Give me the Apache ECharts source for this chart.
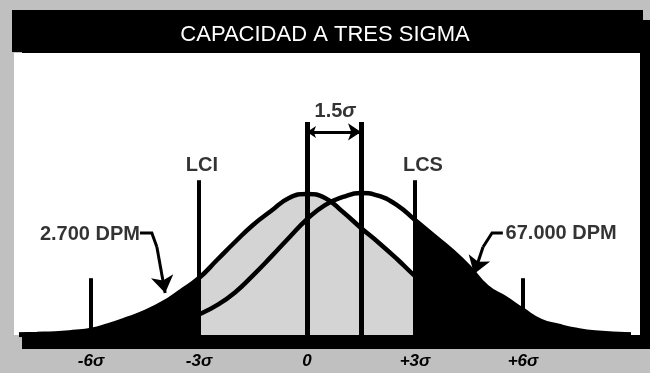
<!DOCTYPE html>
<html>
<head>
<meta charset="utf-8">
<script src="https://cdn.jsdelivr.net/npm/echarts@6/dist/echarts.min.js"></script>
<style>html,body{margin:0;padding:0;background:#c0c0c0}#c{width:650px;height:373px}</style>
</head>
<body>
<div id="c"></div>
<script>
// x positions in sigma units
const sigmaX = [-8,-7.5,-7,-6.5,-6,-5.5,-5,-4.5,-4,-3.5,-3,-2.5,-2,-1.5,-1,-0.5,0,0.5,1,1.5,2,2.5,3,3.5,4,4.5,5,5.5,6,6.5,7,7.5,8,9];
// relative height of the centred process (peak ~100)
const centeredProcess = [0.4,0.7,1.1,2.1,3.5,7.0,11.3,16.2,22.5,31.0,40.1,52.8,65.5,77.5,87.3,96.5,99.3,96.5,86.6,75.4,64.8,53.5,41.5,31.0,21.8,16.2,11.3,7.0,3.5,2.1,1.1,0.7,0.4,0];
// relative height of the process shifted by 1.5 sigma
const shiftedProcess = [0,0.1,0.2,0.4,0.7,1.4,2.1,3.5,5.6,9.0,14.5,21.0,30.0,42.0,55.0,68.5,81.5,91.5,97.2,100,97.9,91.5,81.0,70.4,59.9,47.9,33.8,26.1,17.6,9.9,6.3,3.5,1.8,0.4];

const tickValues = [-6,-3,0,3,6];
const tickLabels = ['-6σ','-3σ','0','+3σ','+6σ'];

const specLimits = [-3, 3];      // LCI, LCS
const specLimitTop = 109;
const processMeans = [0, 1.5];
const meanLineTop = 150;
const farTicks = [-6, 6];
const farTickTop = 40;
const shiftArrowY = 143;

const annotationTexts = ['LCI','LCS','1.5{i|σ}','2.700 DPM','67.000 DPM'];
const annotationX = [-2.92, 3.22, 0.78, -6.03, 7.06];
const annotationY = [119.7, 119.7, 157.7, 71.1, 71.8];

const leaderLeft = [[-4.64,71.8],[-4.31,71.8],[-4.17,62.0],[-3.94,29.6]];
const leaderRight = [[5.44,71.8],[5.14,71.8],[4.89,62.0],[4.64,43.0]];

const pairs = (ys) => sigmaX.map((x,i)=>[x, ys[i]]);
const centered = pairs(centeredProcess);
const shifted = pairs(shiftedProcess);

const chart = echarts.init(document.getElementById('c'), null, {renderer:'canvas'});
const FONT = 'Liberation Sans';
const smoothVal = 0.5;

const vlines = [];
specLimits.forEach(x => vlines.push({coords:[[x,0],[x,specLimitTop]], lineStyle:{width:4}}));
processMeans.forEach(x => vlines.push({coords:[[x,0],[x,meanLineTop]], lineStyle:{width:5}}));
farTicks.forEach(x => vlines.push({coords:[[x,0],[x,farTickTop]], lineStyle:{width:4}}));

// leader lines: body (polyline) + last segment with arrowhead
const leaderBodies = [leaderLeft, leaderRight].map(l => ({coords: l.slice(0, l.length-1)}));
const leaderHeads = [leaderLeft, leaderRight].map(l => ({coords: l.slice(l.length-2)}));

chart.setOption({
  backgroundColor: '#c0c0c0',
  animation: false,
  title: {
    text: 'CAPACIDAD A TRES SIGMA',
    left: 'center', top: 19,
    textStyle: {color:'#ffffff', fontSize:22, fontWeight:'normal', fontFamily: FONT}
  },
  graphic: [
    {type:'rect', z:-10, shape:{x:22,y:20,width:628,height:329}, style:{fill:'#000'}},
    {type:'rect', z:-9, shape:{x:12,y:10,width:631,height:42}, style:{fill:'#000'}},
    {type:'rect', z:-9, shape:{x:14,y:53,width:626,height:282}, style:{fill:'#fff'}}
  ],
  grid: {left:1, right:1, top:51, bottom:38, containLabel:false, outerBoundsMode:'none'},
  xAxis: {
    type:'value', min:-8.5, max:9.5,
    axisLine:{show:false}, axisTick:{show:false}, splitLine:{show:false},
    axisLabel:{
      customValues: tickValues,
      margin: 18,
      color:'#000', fontSize:17, fontWeight:'bold', fontStyle:'italic', fontFamily: FONT,
      formatter: (v) => { const i = tickValues.indexOf(v); return i>=0 ? tickLabels[i] : ''; }
    }
  },
  yAxis: {type:'value', min:0, max:200, show:false},
  series: [
    {type:'line', data: centered.filter(p=>p[0]>=-3 && p[0]<=3), smooth:smoothVal, showSymbol:false,
      lineStyle:{width:0}, areaStyle:{color:'#d4d4d4', opacity:1}, z:1},
    {type:'line', data: centered.filter(p=>p[0]<=-3), smooth:smoothVal, showSymbol:false,
      lineStyle:{width:0}, areaStyle:{color:'#000', opacity:1}, z:1},
    {type:'line', data: shifted.filter(p=>p[0]>=3), smooth:smoothVal, showSymbol:false,
      lineStyle:{width:0}, areaStyle:{color:'#000', opacity:1}, z:1},
    {type:'line', data: centered, smooth:smoothVal, showSymbol:false,
      lineStyle:{width:4.5, color:'#000'}, z:3},
    {type:'line', data: shifted, smooth:smoothVal, showSymbol:false,
      lineStyle:{width:4.5, color:'#000'}, z:3},
    {type:'lines', coordinateSystem:'cartesian2d', data: vlines, symbol:'none',
      lineStyle:{color:'#000', opacity:1}, z:4},
    {type:'lines', coordinateSystem:'cartesian2d',
      data:[{coords:[[processMeans[0],shiftArrowY],[processMeans[1],shiftArrowY]]}],
      symbol:['arrow','arrow'], symbolSize:[9,13],
      lineStyle:{color:'#000', width:3, opacity:1}, z:5},
    {type:'lines', coordinateSystem:'cartesian2d', polyline:true,
      data: leaderBodies, symbol:'none',
      lineStyle:{color:'#000', width:3, opacity:1}, z:5},
    {type:'lines', coordinateSystem:'cartesian2d',
      data: leaderHeads, symbol:['none','arrow'], symbolSize:[11,17],
      lineStyle:{color:'#000', width:3, opacity:1}, z:5},
    {type:'scatter', symbolSize:0, z:6,
      data: annotationTexts.map((t,i)=>({name:t, value:[annotationX[i], annotationY[i]]})),
      label:{show:true, position:'inside', color:'#000', fontSize:20, fontWeight:'bold', fontFamily:FONT,
        formatter:(p)=>p.name,
        rich:{i:{fontStyle:'italic', fontWeight:'bold', fontSize:20, fontFamily:FONT, color:'#000'}}}
    }
  ]
});
</script>
</body>
</html>
